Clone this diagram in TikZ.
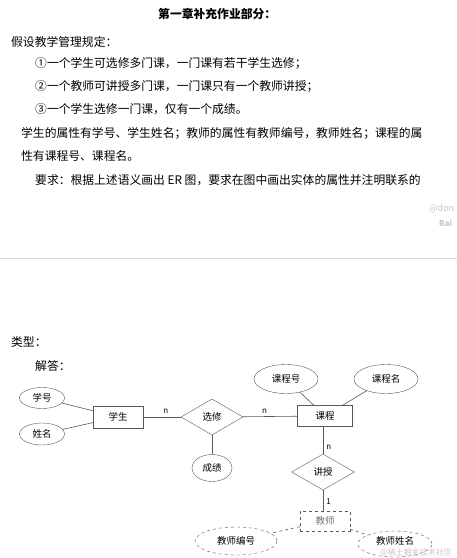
\documentclass[tikz,border=0pt]{standalone}
\usepackage{fontspec}
\setmainfont{Noto Sans CJK SC}
\newfontfamily\cjk{Noto Sans CJK SC}
\usetikzlibrary{shapes.geometric}
\begin{document}
\begin{tikzpicture}[x=1pt,y=-1pt,
  body/.style={anchor=west,inner sep=0pt,font=\cjk\fontsize{11.8pt}{14pt}\selectfont},
  erlbl/.style={font=\cjk\fontsize{9.5pt}{11pt}\selectfont},
  attr/.style={draw=black!65,ellipse,inner sep=0pt,erlbl},
  ent/.style={draw=black!65,rectangle,inner sep=0pt,erlbl},
  rel/.style={draw=black!65,diamond,inner sep=0pt,erlbl},
  conn/.style={draw=black!65,line width=0.6pt},
  card/.style={font=\fontsize{8pt}{9pt}\selectfont,inner sep=0pt},
  wm/.style={text=black!22,inner sep=0pt,anchor=west}]
\useasboundingbox[fill=white] (0,0) rectangle (457,558);
% text block
\node[body,font=\cjk\bfseries\fontsize{11.8pt}{14pt}\selectfont] (title) at (158,14) {第一章补充作业部分：};
\node[body] (l1) at (11,42) {假设教学管理规定：};
\node[body] (l2) at (35,63) {①一个学生可选修多门课，一门课有若干学生选修；};
\node[body] (l3) at (35,86) {②一个教师可讲授多门课，一门课只有一个教师讲授；};
\node[body] (l4) at (35,109) {③一个学生选修一门课，仅有一个成绩。};
\node[body] (l5) at (21,133) {学生的属性有学号、学生姓名；教师的属性有教师编号，教师姓名；课程的属};
\node[body] (l6) at (21,156) {性有课程号、课程名。};
\node[body] (l7) at (35,180) {要求：根据上述语义画出 ER 图，要求在图中画出实体的属性并注明联系的};
% watermark top
\node[wm,font=\fontsize{9pt}{10pt}\selectfont] (wm1) at (429,209) {@don};
\node[wm,font=\bfseries\fontsize{8pt}{9pt}\selectfont] (wm2) at (439,223) {Bai};
% separator
\coordinate (sepL) at (0,258);
\coordinate (sepR) at (457,258);
\draw[black!15,line width=0.8pt] (sepL) -- (sepR);
\node[body] (lx) at (11,342) {类型：};
\node[body] (ld) at (35,366) {解答：};
% ER diagram
\node[attr,minimum width=45,minimum height=21] (xh) at (42,398) {学号};
\node[attr,minimum width=45,minimum height=22] (xm) at (42,434) {姓名};
\node[ent,minimum width=50,minimum height=22] (xs) at (118,417) {学生};
\node[rel,minimum width=62,minimum height=36] (xx) at (212,417) {选修};
\node[ent,minimum width=55,minimum height=21] (kc) at (325,416) {课程};
\node[attr,minimum width=64,minimum height=29] (kch) at (286,379) {课程号};
\node[attr,minimum width=64,minimum height=29] (kcm) at (386,379) {课程名};
\node[attr,minimum width=40,minimum height=27] (cj) at (212,468) {成绩};
\node[rel,minimum width=63,minimum height=36] (js) at (323,472) {讲授};
\node[ent,dashed,minimum width=50,minimum height=20,text=black!55] (jsh) at (325,521) {教师};
\node[attr,dashed,minimum width=82,minimum height=28] (jbh) at (236,541) {教师编号};
\node[attr,dashed,minimum width=74,minimum height=26] (jxm) at (395,544) {};
\node[erlbl,inner sep=0pt] (jxmt) at (395,541) {教师姓名};
\draw[conn] (xh) -- (xs);
\draw[conn] (xm) -- (xs);
\draw[conn] (xs) -- node[card,above=3pt,pos=0.6] {n} (xx);
\draw[conn] (xx) -- node[card,above=3pt,pos=0.4] {n} (kc);
\draw[conn] (kch) -- (kc);
\draw[conn] (kcm) -- (kc);
\draw[conn] (xx) -- (cj);
\draw[conn] (kc.south -| js.north) -- node[card,right=3pt,pos=0.75] {n} (js.north);
\draw[conn] (js.south) -- node[card,right=3pt,pos=0.55] {1} (js.south |- jsh.north);
\draw[conn,dashed] (jsh) -- (jbh);
\draw[conn,dashed] (jsh) -- (jxm);
% watermark bottom
\node[wm,font=\cjk\fontsize{8pt}{9pt}\selectfont] (wm3) at (380,553) {@稀土掘金技术社区};
\end{tikzpicture}
\end{document}
